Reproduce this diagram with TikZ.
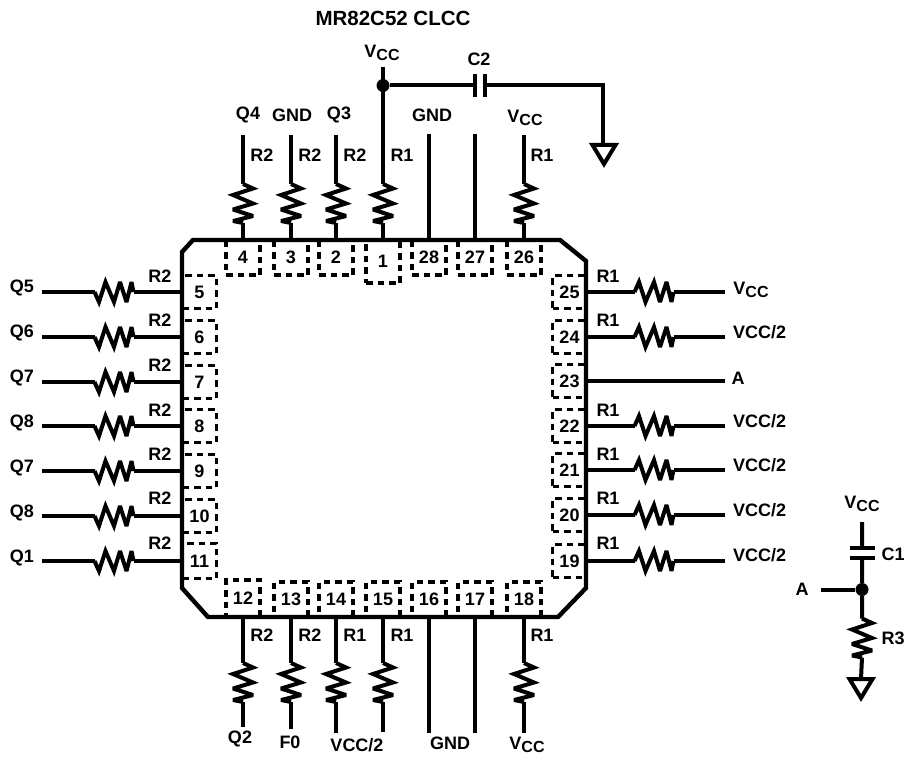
\documentclass[tikz,border=0pt]{standalone}
\usepackage{fontspec}
\setmainfont{Liberation Sans}
\newcommand{\vcclabel}{V\raisebox{-0.32ex}{\fontsize{16}{16}\selectfont CC}}

\begin{document}
\begin{tikzpicture}
[x=1pt,y=-1pt,
  textDecorate/.style={inner sep=0pt,font=\fontsize{18}{18}\selectfont\bfseries},%
  wire/.style={-,line width=4pt},%
  chipLine/.style={line width=4.4pt,miter limit=2},%
  pinBox/.style={shape=rectangle,draw,dashed,dash pattern=on 6.5pt off 5pt,line width=3.4pt,inner sep=0pt,
    font=\fontsize{18}{18}\selectfont\bfseries},%
  junction/.style={shape=circle,fill,inner sep=0pt,minimum size=13pt},%
  resV/.pic={\draw[wire,miter limit=3] (0,-19.5) -- (10,-15) -- (-10,-8.5) -- (10,0) -- (-10,6) -- (10,12.5) -- (-10,17.5) -- (0,19.5);
    \coordinate (-in) at (0,-19.5); \coordinate (-out) at (0,19.5);},%
  resH/.pic={\draw[wire,miter limit=3] (-19.5,0) -- (-15,10) -- (-8.5,-10) -- (0,10) -- (6,-10) -- (12.5,10) -- (17.5,-10) -- (19.5,0);
    \coordinate (-in) at (-19.5,0); \coordinate (-out) at (19.5,0);},%
  capH/.pic={\draw[wire] (-5,-11.5) -- (-5,11.5) (5,-11.5) -- (5,11.5);
    \coordinate (-in) at (-5,0); \coordinate (-out) at (5,0);},%
  capV/.pic={\draw[wire] (-12.5,-5) -- (12.5,-5) (-12.5,5) -- (12.5,5);
    \coordinate (-in) at (0,-5); \coordinate (-out) at (0,5);},%
  gndSym/.pic={\draw[wire,miter limit=4] (-11.5,0) -- (11.5,0) -- (0,19) -- cycle;
    \coordinate (-in) at (0,0);}]
\useasboundingbox (0,0) rectangle (910,757);

%% pin boxes
\foreach \pinname/\x/\y/\boxw/\boxh in {
  4/243/257.5/34/35, 3/291/257.5/34/35, 2/336/257.5/34/35, 1/383/261.5/34/43,
  28/429/257.5/34/35, 27/475/257.5/34/35, 26/524/257.5/34/35,
  5/199.5/292/34/33, 6/199.5/337/34/33, 7/199.5/382/34/33, 8/199.5/426/34/33,
  9/199.5/471/34/33, 10/199.5/516/34/33, 11/199.5/561/34/35,
  25/569.5/292/34/33, 24/569.5/337/34/33, 23/569.5/381/34/33, 22/569.5/426/34/33,
  21/569.5/470/34/33, 20/569.5/515/34/33, 19/569.5/561/34/33,
  12/243/598.5/34/37, 13/291/599.5/34/35, 14/336/599.5/34/35, 15/383/599.5/34/35,
  16/429/599.5/34/35, 17/475/599.5/34/35, 18/524/599.5/34/35}
{
  \node (p\pinname) at (\x,\y) [pinBox,minimum width=\boxw pt,minimum height=\boxh pt] {\pinname};
}
%% chip outline
\draw[chipLine] (193,240) -- (560,240) -- (586,261) -- (586,588) -- (558,617)
  -- (208,617) -- (182,588) -- (182,252) -- cycle;

%% top pins
\foreach \pinname/\x/\endy in {4/243/135, 3/291/135, 2/336/135, 1/383/67, 26/524/135}
{
  \coordinate (t\pinname) at (\x,\endy);
  \pic (r\pinname) at (\x,203.5) {resV};
  \draw[wire] (t\pinname) -- (r\pinname-in) (r\pinname-out) -- (p\pinname.north);
}
\foreach \pinname/\x in {28/429, 27/475}
{
  \coordinate (t\pinname) at (\x,134);
  \draw[wire] (t\pinname) -- (p\pinname.north);
}
%% bottom pins
\foreach \pinname/\x/\endy in {12/243/727, 13/291/729, 14/336/733, 15/383/732, 18/524/733}
{
  \coordinate (t\pinname) at (\x,\endy);
  \pic (r\pinname) at (\x,682.5) {resV};
  \draw[wire] (p\pinname.south) -- (r\pinname-in) (r\pinname-out) -- (t\pinname);
}
\foreach \pinname/\x in {16/429, 17/475}
{
  \coordinate (t\pinname) at (\x,733);
  \draw[wire] (p\pinname.south) -- (t\pinname);
}
%% left pins
\foreach \pinname/\y in {5/292, 6/337, 7/382, 8/426, 9/471, 10/516, 11/561}
{
  \coordinate (t\pinname) at (42,\y);
  \pic (r\pinname) at (114,\y) {resH};
  \draw[wire] (t\pinname) -- (r\pinname-in) (r\pinname-out) -- (p\pinname.west);
}
%% right pins
\foreach \pinname/\y in {25/292, 24/337, 22/426, 21/470, 20/515, 19/561}
{
  \coordinate (t\pinname) at (725,\y);
  \pic (r\pinname) at (654,\y) [yscale=-1] {resH};
  \draw[wire] (p\pinname.east) -- (r\pinname-in) (r\pinname-out) -- (t\pinname);
}
\coordinate (t23) at (725,381);
\draw[wire] (p23.east) -- (t23);

%% decoupling cap at the top
\node (dotTop) at (383,85.5) [junction] {};
\pic (c2) at (480,85.5) {capH};
\coordinate (bend) at (603,85.5);
\pic (gndTop) at (604,145) {gndSym};
\draw[wire] (dotTop) -- (c2-in) (c2-out) -- (bend) -- (bend |- gndTop-in);

%% load circuit
\coordinate (vccLoad) at (862,522);
\pic (c1) at (862,552.5) {capV};
\node (dotLoad) at (862,589.5) [junction] {};
\coordinate (aLoad) at (821,589.5);
\pic (r3) at (862,638) {resV};
\pic (gndLoad) at (861,679) {gndSym};
\draw[wire] (vccLoad) -- (c1-in) (c1-out) -- (dotLoad) -- (r3-in) (r3-out) -- (gndLoad-in);
\draw[wire] (aLoad) -- (dotLoad);

%% labels
\foreach \nodename/\x/\y/\txt in {
  lc2/479/59/C2,
  lq4/248/115/Q4, lg3/292/115/GND, lq3/339/115/Q3, lg28/432/115/GND,
  lq5/22/288/Q5, lq6/22/333/Q6, lq7/22/378/Q7, lq8/22/423/Q8,
  lq9/22/468/Q7, lq10/22/513/Q8, lq1/22/558/Q1,
  lq2/240/739/Q2, lf0/290/742/F0, lv14/357/745/{VCC/2}, lg16/450/743/GND,
  la23/738/378/A, ll/802/589/A, lc1/893/554/C1, lr3/893/638/R3,
  lr4/262/155/R2, lr3t/310/155/R2, lr2/355/155/R2, lr1/402/155/R1, lr26/542/155/R1,
  lr12/262/635/R2, lr13/310/635/R2, lr14/355/635/R1, lr15/402/635/R1, lr18/542/635/R1,
  lr5/160/276/R2, lr6/160/320/R2, lr7/160/365/R2, lr8/160/410/R2,
  lr9/160/454/R2, lr10/160/498/R2, lr11/160/543/R2,
  lr25/608/276/R1, lr24/608/320/R1, lr22/608/410/R1,
  lr21/608/454/R1, lr20/608/498/R1, lr19/608/543/R1}
{
  \node (\nodename) at (\x,\y) [textDecorate] {\txt};
}
\node (title) at (393,18) [textDecorate,font=\fontsize{20.5}{20.5}\selectfont\bfseries] {MR82C52 CLCC};
\foreach \nodename/\x/\y in {lvt/382/53, lv26/525/118, lv18/527/745, lv25/751/290, lvl/862/504}
{
  \node (\nodename) at (\x,\y) [textDecorate] {\vcclabel};
}
\foreach \nodename/\y in {lv24/332, lv22/421, lv21/465, lv20/510, lv19/555}
{
  \node (\nodename) at (733,\y) [textDecorate,anchor=west] {VCC/2};
}
\end{tikzpicture}
\end{document}
